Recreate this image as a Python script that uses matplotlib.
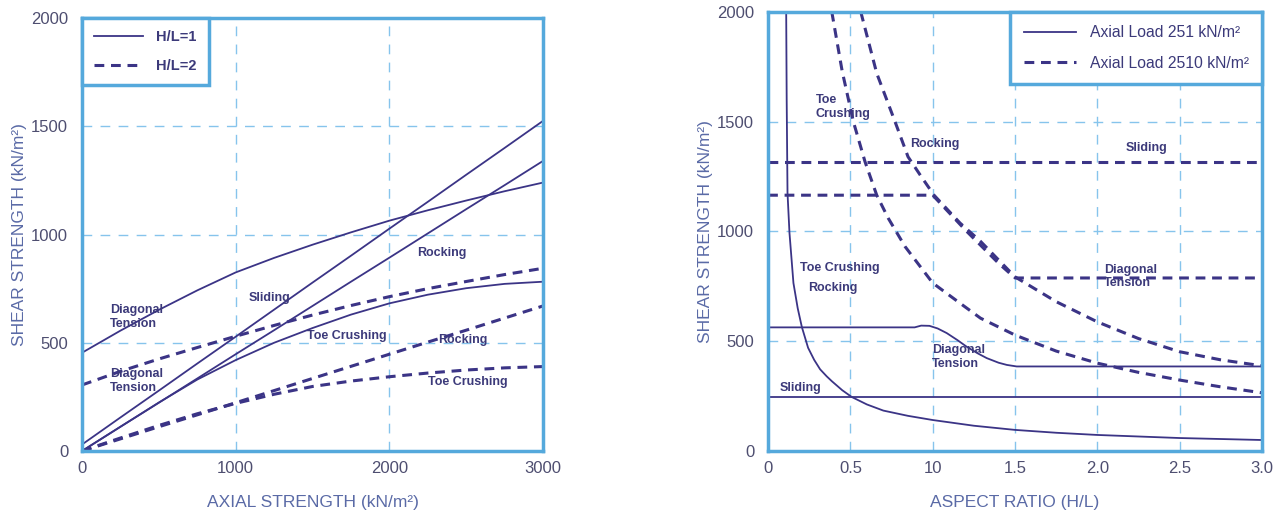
import matplotlib
matplotlib.use('Agg')
import matplotlib.pyplot as plt

plt.rcParams['font.family'] = ['Liberation Sans', 'DejaVu Sans']

# ---- left panel: shear strength vs axial strength ----
axial = [0, 250, 500, 750, 1000, 1250, 1500, 1750, 2000, 2250, 2500, 2750, 3000]
# H/L = 1 (solid)
diag1 = [454, 556, 652, 742, 825, 892, 953, 1010, 1064, 1112, 1157, 1200, 1240]
slide1 = [30, 155, 279, 404, 528, 653, 778, 902, 1027, 1151, 1276, 1400, 1525]
rock1 = [0, 112, 223, 335, 447, 558, 670, 782, 893, 1005, 1117, 1228, 1340]
toe1 = [0, 112, 224, 330, 420, 500, 568, 630, 682, 722, 752, 772, 782]
# H/L = 2 (dashed)
diag2 = [305, 368, 425, 478, 530, 580, 628, 672, 713, 750, 783, 815, 844]
rock2 = [0, 56, 112, 167, 223, 279, 335, 391, 447, 503, 558, 614, 670]
toe2 = [0, 60, 118, 172, 220, 262, 298, 323, 343, 360, 374, 384, 390]

# ---- right panel: shear strength vs aspect ratio ----
# axial load 251 kN/m2 (solid)
toe_rock_x = [0.11, 0.113, 0.118, 0.13, 0.154, 0.18, 0.205, 0.243, 0.28, 0.316, 0.356, 0.387,
              0.45, 0.508, 0.6, 0.7, 0.85, 1.0, 1.25, 1.5, 1.75, 2.0, 2.5, 3.0]
toe_rock_y = [2000, 1600, 1175, 993, 765, 650, 565, 470, 415, 372, 340, 318,
              277, 246, 212, 184, 160, 141, 115, 96, 83, 73, 59, 50]
diag_lo_x = [0, 0.89, 0.93, 0.98, 1.03, 1.085, 1.15, 1.206, 1.27, 1.328, 1.40, 1.45, 1.51, 3.0]
diag_lo_y = [563, 563, 571, 570, 558, 537, 505, 475, 446, 423, 402, 392, 385, 385]
slide_lo_x = [0, 3.0]
slide_lo_y = [245, 245]
# axial load 2510 kN/m2 (dashed)
slide_hi_x = [0, 3.0]
slide_hi_y = [1315, 1315]
rock_hi_x = [0.563, 0.66, 0.771, 0.85, 0.93, 1.008, 1.166, 1.29, 1.5, 1.75, 2.0, 2.25, 2.5, 2.75, 3.0]
rock_hi_y = [2000, 1720, 1500, 1340, 1250, 1165, 1038, 955, 793, 680, 588, 512, 452, 415, 388]
toe_hi_x = [0.387, 0.45, 0.518, 0.589, 0.66, 0.73, 0.832, 1.0, 1.166, 1.29, 1.5, 1.75, 2.0, 2.25, 2.5, 2.75, 3.0]
toe_hi_y = [2000, 1730, 1500, 1317, 1165, 1060, 931, 765, 673, 605, 528, 455, 400, 358, 323, 292, 265]
diag_hi_x = [0, 1.0, 1.1, 1.2, 1.3, 1.4, 1.5, 3.0]
diag_hi_y = [1165, 1165, 1085, 1005, 930, 855, 788, 788]

line_c = '#3b3486'
spine_c = '#55a9dc'
grid_c = '#86c4ec'
tick_c = '#4e4e70'
label_c = '#5a6aa6'
txt_c = '#3c3a7a'
dash = (0, (3.2, 2.2))

fig = plt.figure(figsize=(12.78, 5.16), dpi=100)
ax1 = fig.add_axes([0.0642, 0.126, 0.3607, 0.839])
ax2 = fig.add_axes([0.601, 0.126, 0.3865, 0.851])


def style(ax):
    for s in ax.spines.values():
        s.set_color(spine_c)
        s.set_linewidth(2.5)
    ax.grid(True, color=grid_c, linestyle=(0, (7, 6)), linewidth=1.0)
    ax.tick_params(length=0, labelsize=12, labelcolor=tick_c)
    ax.tick_params(axis='x', pad=7)
    ax.tick_params(axis='y', pad=10)
    ax.set_axisbelow(True)


def legend(ax, loc, bold, size):
    prop = {'size': size}
    if bold:
        prop['weight'] = 'bold'
    leg = ax.legend(loc=loc, fancybox=False, borderaxespad=0, handlelength=3.3,
                    handletextpad=0.9, borderpad=0.85, labelspacing=1.0, prop=prop)
    leg.get_frame().set_edgecolor(spine_c)
    leg.get_frame().set_linewidth(2.5)
    leg.get_frame().set_alpha(1)
    for t in leg.get_texts():
        t.set_color(txt_c)


# left
ax1.plot(axial, diag1, color=line_c, lw=1.3, label='H/L=1')
ax1.plot(axial, slide1, color=line_c, lw=1.3)
ax1.plot(axial, rock1, color=line_c, lw=1.3)
ax1.plot(axial, toe1, color=line_c, lw=1.3)
ax1.plot(axial, diag2, color=line_c, lw=2.2, ls=dash, label='H/L=2')
ax1.plot(axial, rock2, color=line_c, lw=2.2, ls=dash)
ax1.plot(axial, toe2, color=line_c, lw=2.2, ls=dash)
ax1.set_xlim(0, 3000)
ax1.set_ylim(0, 2000)
ax1.set_xticks([0, 1000, 2000, 3000])
ax1.set_yticks([0, 500, 1000, 1500, 2000])
style(ax1)
ax1.set_xlabel('AXIAL STRENGTH (kN/m²)', fontsize=12.5, color=label_c, labelpad=14)
ax1.set_ylabel('SHEAR STRENGTH (kN/m²)', fontsize=12.5, color=label_c, labelpad=3)
legend(ax1, 'upper left', True, 10.5)

tk = dict(fontsize=9, fontweight='bold', color=txt_c, va='center', ha='left')
ax1.text(182, 620, 'Diagonal\nTension', **tk)
ax1.text(182, 323, 'Diagonal\nTension', **tk)
ax1.text(1087, 708, 'Sliding', **tk)
ax1.text(1462, 532, 'Toe Crushing', **tk)
ax1.text(2178, 916, 'Rocking', **tk)
ax1.text(2317, 513, 'Rocking', **tk)
ax1.text(2252, 320, 'Toe Crushing', **tk)

# right
ax2.plot(toe_rock_x, toe_rock_y, color=line_c, lw=1.3, label='Axial Load 251 kN/m²')
ax2.plot(diag_lo_x, diag_lo_y, color=line_c, lw=1.3)
ax2.plot(slide_lo_x, slide_lo_y, color=line_c, lw=1.3)
ax2.plot(slide_hi_x, slide_hi_y, color=line_c, lw=2.2, ls=dash, label='Axial Load 2510 kN/m²')
ax2.plot(rock_hi_x, rock_hi_y, color=line_c, lw=2.2, ls=dash)
ax2.plot(toe_hi_x, toe_hi_y, color=line_c, lw=2.2, ls=dash)
ax2.plot(diag_hi_x, diag_hi_y, color=line_c, lw=2.2, ls=dash)
ax2.set_xlim(0, 3.0)
ax2.set_ylim(0, 2000)
ax2.set_xticks([0, 0.5, 1.0, 1.5, 2.0, 2.5, 3.0])
ax2.set_yticks([0, 500, 1000, 1500, 2000])
style(ax2)
ax2.set_xticklabels(['0', '0.5', '10', '1.5', '2.0', '2.5', '3.0'])
ax2.set_xlabel('ASPECT RATIO (H/L)', fontsize=12.5, color=label_c, labelpad=14)
ax2.set_ylabel('SHEAR STRENGTH (kN/m²)', fontsize=12.5, color=label_c, labelpad=3)
legend(ax2, 'upper right', False, 11.3)

ax2.text(0.29, 1567, 'Toe\nCrushing', **tk)
ax2.text(0.86, 1400, 'Rocking', **tk)
ax2.text(2.17, 1380, 'Sliding', **tk)
ax2.text(2.04, 795, 'Diagonal\nTension', **tk)
ax2.text(0.194, 835, 'Toe Crushing', **tk)
ax2.text(0.241, 741, 'Rocking', **tk)
ax2.text(0.994, 428, 'Diagonal\nTension', **tk)
ax2.text(0.069, 286, 'Sliding', **tk)

fig.savefig('out.png', dpi=100)
